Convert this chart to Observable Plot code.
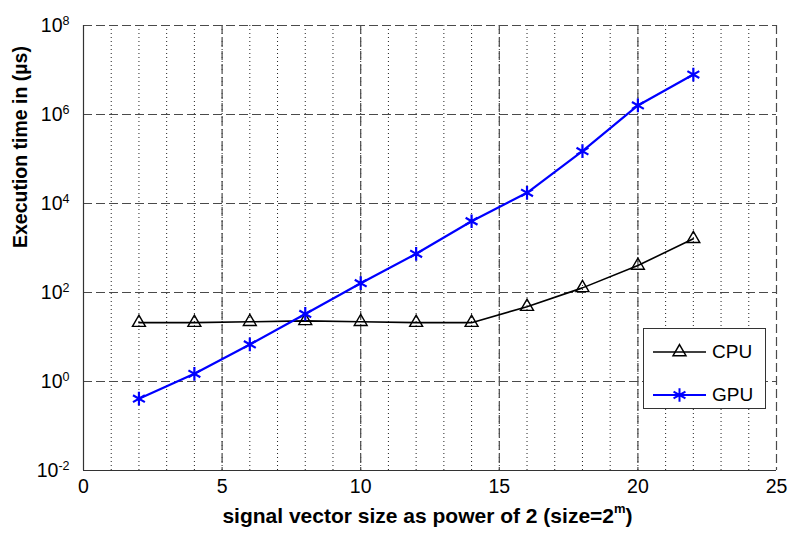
<!DOCTYPE html>
<html>
<head>
<meta charset="utf-8">
<script src="https://cdn.jsdelivr.net/npm/d3@7"></script>
<script src="https://cdn.jsdelivr.net/npm/@observablehq/plot@0.6"></script>
<style>
  body { margin: 0; background: #fff; }
  #wrap { position: relative; width: 790px; height: 533px; font-family: "Liberation Sans", Arial, sans-serif; }
  #xlabel { position: absolute; left: 0; width: 855px; top: 503px; text-align: center; font-weight: bold; font-size: 21px; color: #000; }
  #xlabel sup { font-size: 13px; position: relative; top: -2px; }
  #legend { position: absolute; left: 643px; top: 328px; width: 121px; height: 79px; border: 1px solid #333; background: #fff; font-size: 19px; }
  .row { position: absolute; left: 0; height: 24px; display: flex; align-items: center; }
  .row svg { margin-left: 9px; margin-right: 6px; }
</style>
</head>
<body>
<div id="wrap">
  <div id="chart"></div>
  <div id="xlabel">signal vector size as power of 2 (size=2<sup>m</sup>)</div>
  <div id="legend">
    <div class="row" style="top:11px"><svg width="53" height="24" id="lgCPU"></svg><span>CPU</span></div>
    <div class="row" style="top:54px"><svg width="53" height="24" id="lgGPU"></svg><span>GPU</span></div>
  </div>
</div>
<script>
// Data
const sizesPow = [2, 4, 6, 8, 10, 12, 14, 16, 18, 20, 22];
const cpuTime = [21, 21, 22, 23, 22, 21, 21, 48, 127, 404, 1610];
const gpuTime = [0.41, 1.49, 6.8, 33, 162, 740, 3990, 17400, 150000, 1.6e6, 7.9e6];
const seriesNames = ["CPU", "GPU"];
const xTicks = [0, 5, 10, 15, 20, 25];
const xMinor = [1,2,3,4,5,6,7,8,9,10,11,12,13,14,15,16,17,18,19,20,21,22,23,24];
const yTicks = [1e-2, 1e0, 1e2, 1e4, 1e6, 1e8];
const yLabel = "Execution time in (µs)";

const cpu = sizesPow.map((x, i) => ({x, y: cpuTime[i]}));
const gpu = sizesPow.map((x, i) => ({x, y: gpuTime[i]}));

const font = '"Liberation Sans", Arial, sans-serif';
const gridColor = "#4a4a4a";

const chart = Plot.plot({
  width: 790,
  height: 497,
  marginLeft: 83,
  marginRight: 14,
  marginTop: 25,
  marginBottom: 27,
  style: { fontFamily: font, fontSize: "19px", color: "#000", background: "#fff" },
  x: { domain: [0, 25] },
  y: { type: "log", domain: [1e-2, 1e8] },
  marks: [
    Plot.ruleX(xMinor, { stroke: "#222", strokeWidth: 1, strokeDasharray: "1,3" }),
    Plot.ruleX(xTicks.filter(d => d > 0), { stroke: gridColor, strokeWidth: 1.2, strokeDasharray: "9,4" }),
    Plot.ruleY(yTicks.filter(d => d > 1e-2), { stroke: gridColor, strokeWidth: 1.2, strokeDasharray: "9,4" }),
    Plot.ruleX([0], { stroke: "#333", strokeWidth: 1.2 }),
    Plot.ruleY([1e-2], { stroke: "#333", strokeWidth: 1.2 }),
    Plot.axisX({ ticks: xTicks, tickSize: 0, tickPadding: 9, label: null, fontSize: 19.5 }),
    Plot.axisY({ ticks: yTicks, tickSize: 0, tickPadding: 14, label: null, fontSize: 19.5,
      tickFormat: d => "10^" + Math.round(Math.log10(d)) }),
    Plot.line(cpu, { x: "x", y: "y", stroke: "#000", strokeWidth: 1.6 }),
    Plot.dot(cpu, { x: "x", y: "y", symbol: "triangle", r: 4.8, stroke: "#000", fill: "none", strokeWidth: 1.4 }),
    Plot.line(gpu, { x: "x", y: "y", stroke: "#0000ff", strokeWidth: 2.2 }),
    Plot.dot(gpu, { x: "x", y: "y", symbol: "asterisk", r: 6.5, stroke: "#0000ff", strokeWidth: 2.2 }),
    Plot.text([yLabel], { frameAnchor: "left", text: d => d, rotate: -90, dx: -63, fontWeight: "bold", fontSize: 19.5, fill: "#000" })
  ]
});
document.getElementById("chart").appendChild(chart);

// superscript exponents on y tick labels
d3.select(chart).selectAll("g[aria-label='y-axis tick label'] text").each(function() {
  const t = this.textContent;
  const m = t.match(/^10\^(-?\d+)$/);
  if (!m) return;
  const sel = d3.select(this);
  sel.text(null);
  sel.append("tspan").text("10");
  sel.append("tspan").attr("dy", "-0.55em").attr("font-size", "12.5px").text(m[1]);
});

// legend samples
function sample(id, color, symbol, sw) {
  const s = d3.select("#" + id);
  s.append("line").attr("x1", 0).attr("x2", 53).attr("y1", 12).attr("y2", 12).attr("stroke", color).attr("stroke-width", sw);
  const sym = symbol === "triangle" ? d3.symbolTriangle : d3.symbolAsterisk;
  s.append("path").attr("transform", "translate(26.5,12)")
    .attr("d", d3.symbol(sym, Math.PI * (symbol === "triangle" ? 4.8 * 4.8 : 6.5 * 6.5))())
    .attr("fill", "none").attr("stroke", color).attr("stroke-width", sw);
}
sample("lgCPU", "#000", "triangle", 1.5);
sample("lgGPU", "#0000ff", "asterisk", 2);
</script>
</body>
</html>
